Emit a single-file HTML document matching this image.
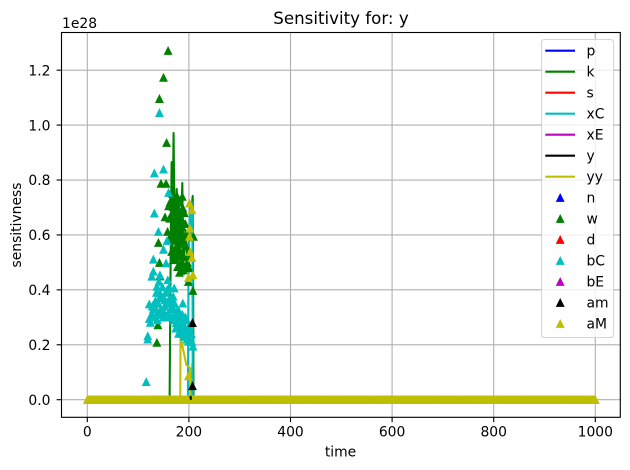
<!DOCTYPE html>
<html>
<head>
<meta charset="utf-8">
<title>Sensitivity for: y</title>
<style>
html,body{margin:0;padding:0;background:#fff;}
svg{display:block;}
text{font-family:"DejaVu Sans","Liberation Sans",sans-serif;fill:#000;}
</style>
</head>
<body>
<svg id="chart" xmlns="http://www.w3.org/2000/svg" width="630" height="470" viewBox="0 0 630 470"></svg>
<script>
const xTickLabels = [0, 200, 400, 600, 800, 1000];
const yTickLabels = [0.0, 0.2, 0.4, 0.6, 0.8, 1.0, 1.2];

const kTimes = [0,162,163.7,166,167.6,169.8,172,176,179,180.5,183,187,189,193,197,200.5,207.5,208.5,209,1000];
const kValues = [0,0,0.436,0.865,0.509,0.971,0.60,0.767,0.50,0.709,0.509,0.789,0.49,0.618,0.49,0.60,0.742,0.363,0,0];
const sTimes = [0,206.5,207,207.5,1000];
const sValues = [0,0,0.13,0,0];
const xCTimes = [0,198,199,201,203,204.5,205.5,207,207.5,1000];
const xCValues = [0,0,0.417,0.62,0.72,0.58,0.72,0.66,0,0];
const yyTimes = [0,183,183.5,189,195,202.5,203.5,1000];
const yyValues = [0,0,0.228,0.18,0.126,0.115,0,0];
const yTimes = [203,203.5,204];
const yValues = [0.014,0.008,0];

const wTimes = [159,150,142,156,145,155,160,169,188,153,166,176,158,140,142,143,166,169,186,181.5,189,175,183,186,177.5,189,181.5,199,208,209,139,137,
162,170,178,172,180,185,176,190,173,184,165,195,168,
163,167,171,174,177,179,182,185,187,191,193,196,164,168,172,175,178,181,184,187,190,194,197,170,174,179,183,186,192,200,203];
const wValues = [1.271,1.173,1.096,0.936,0.787,0.787,0.705,0.702,0.698,0.665,0.673,0.680,0.612,0.572,0.499,0.450,0.539,0.509,0.630,0.594,0.570,0.557,0.534,0.503,0.484,0.472,0.463,0.430,0.397,0.594,0.272,0.208,
0.66,0.64,0.62,0.58,0.65,0.57,0.61,0.52,0.55,0.47,0.60,0.48,0.75,
0.72,0.68,0.73,0.70,0.74,0.69,0.72,0.66,0.74,0.68,0.64,0.60,0.58,0.61,0.63,0.60,0.66,0.62,0.68,0.60,0.57,0.56,0.50,0.53,0.51,0.54,0.49,0.53,0.48,0.48,0.52];

const bCTimes = [142,150,132,160,132,140,157,150,130,155,130,127,143,158.5,137,171,143,157,169,142,122,133.5,153,188,166,127,122,143,124,160,179.5,173,183,193,176,189,179.5,196,119,119,199,208,116,135,150,165,175,185,190,180,170,148,160,138,200,
128,131,134,137,140,145,148,152,155,158,162,164,168,172,174,178,181,185,187,191,194,198,202,205,126,130,136,141,146,151,156,161,166,170,176,182,186,192,196,203,206];
const bCValues = [1.045,0.839,0.825,0.754,0.679,0.612,0.579,0.547,0.511,0.497,0.467,0.449,0.454,0.436,0.412,0.406,0.388,0.400,0.376,0.370,0.348,0.351,0.363,0.351,0.339,0.313,0.295,0.310,0.281,0.315,0.325,0.301,0.284,0.301,0.266,0.266,0.241,0.241,0.232,0.220,0.212,0.194,0.065,0.33,0.30,0.30,0.28,0.25,0.23,0.26,0.33,0.37,0.35,0.29,0.25,
0.34,0.30,0.36,0.31,0.35,0.33,0.41,0.34,0.39,0.31,0.37,0.33,0.30,0.35,0.26,0.29,0.31,0.29,0.31,0.27,0.29,0.26,0.27,0.24,0.30,0.33,0.39,0.43,0.37,0.32,0.30,0.41,0.36,0.29,0.32,0.27,0.24,0.25,0.22,0.23,0.21];

const amTimes = [207,207];
const amValues = [0.28,0.05];
const aMPeakTimes = [201,206,202,201,202.5,206,208,199,199];
const aMPeakValues = [0.715,0.691,0.624,0.594,0.539,0.517,0.454,0.444,0.086];

const timeEnd = 1000;
const baselineValues = [
0,0,0,0,0,0,0,0,0,0,0,0,0,0,0,0,0,0,0,0,0,0,0,0,0,0,0,0,0,0,0,0,0,0,0,0,0,0,0,0,0,0,0,0,0,0,0,0,0,0,
0,0,0,0,0,0,0,0,0,0,0,0,0,0,0,0,0,0,0,0,0,0,0,0,0,0,0,0,0,0,0,0,0,0,0,0,0,0,0,0,0,0,0,0,0,0,0,0,0,0,
0,0,0,0,0,0,0,0,0,0,0,0,0,0,0,0,0,0,0,0,0,0,0,0,0,0,0,0,0,0,0,0,0,0,0,0,0,0,0,0,0,0,0,0,0,0,0,0,0,0,
0,0,0,0,0,0,0,0,0,0,0,0,0,0,0,0,0,0,0,0,0,0,0,0,0,0,0,0,0,0,0,0,0,0,0,0,0,0,0,0,0,0,0,0,0,0,0,0,0,0,
0,0,0,0,0,0,0,0,0,0,0,0,0,0,0,0,0,0,0,0,0,0,0,0,0,0,0,0,0,0,0,0,0,0,0,0,0,0,0,0,0,0,0,0,0,0,0,0,0,0,
0,0,0,0,0,0,0,0,0,0,0,0,0,0,0,0,0,0,0,0,0,0,0,0,0,0,0,0,0,0,0,0,0,0,0,0,0,0,0,0,0,0,0,0,0,0,0,0,0,0,
0,0,0,0,0,0,0,0,0,0,0,0,0,0,0,0,0,0,0,0,0,0,0,0,0,0,0,0,0,0,0,0,0,0,0,0,0,0,0,0,0,0,0,0,0,0,0,0,0,0,
0,0,0,0,0,0,0,0,0,0,0,0,0,0,0,0,0,0,0,0,0,0,0,0,0,0,0,0,0,0,0,0,0,0,0,0,0,0,0,0,0,0,0,0,0,0,0,0,0,0,
0,0,0,0,0,0,0,0,0,0,0,0,0,0,0,0,0,0,0,0,0,0,0,0,0,0,0,0,0,0,0,0,0,0,0,0,0,0,0,0,0,0,0,0,0,0,0,0,0,0,
0,0,0,0,0,0,0,0,0,0,0,0,0,0,0,0,0,0,0,0,0,0,0,0,0,0,0,0,0,0,0,0,0,0,0,0,0,0,0,0,0,0,0,0,0,0,0,0,0,0,
0];

const lineLegendLabels = ['p','k','s','xC','xE','y','yy'];
const lineLegendColors = ['#0000ff','#008000','#ff0000','#00bfbf','#bf00bf','#000000','#bfbf00'];
const markerLegendLabels = ['n','w','d','bC','bE','am','aM'];
const markerLegendColors = ['#0000ff','#008000','#ff0000','#00bfbf','#bf00bf','#000000','#bfbf00'];

const svg = document.getElementById('chart');
const NS = 'http://www.w3.org/2000/svg';
const box = {left: 61.5, right: 620.3, top: 32.5, bottom: 417.3};

function xScale(t) { return 87.3 + t * 0.508; }
function yScale(v) { return 399.7 - v * 274.6; }

function make(tag, parent) {
  const el = document.createElementNS(NS, tag);
  parent.appendChild(el);
  return el;
}
function triangle(parent, cx, cy, color) {
  const r = 3.8;
  const p = make('polygon', parent);
  p.setAttribute('points', (cx) + ',' + (cy - r) + ' ' + (cx - r) + ',' + (cy + r) + ' ' + (cx + r) + ',' + (cy + r));
  p.setAttribute('fill', color);
  p.setAttribute('stroke', color);
  p.setAttribute('stroke-width', '0.8');
  return p;
}
function seriesLine(parent, times, values, color) {
  const l = make('polyline', parent);
  l.setAttribute('points', times.map(function (t, i) { return xScale(t).toFixed(2) + ',' + yScale(values[i]).toFixed(2); }).join(' '));
  l.setAttribute('fill', 'none');
  l.setAttribute('stroke', color);
  l.setAttribute('stroke-width', '2.08');
  l.setAttribute('stroke-linejoin', 'round');
  return l;
}
function label(parent, x, y, str, size, anchor) {
  const t = make('text', parent);
  t.setAttribute('x', x);
  t.setAttribute('y', y);
  t.setAttribute('font-size', size);
  t.setAttribute('text-anchor', anchor);
  t.textContent = str;
  return t;
}

const bg = make('rect', svg);


bg.setAttribute('x', box.left);
bg.setAttribute('y', box.top);
bg.setAttribute('width', box.right - box.left);
bg.setAttribute('height', box.bottom - box.top);
bg.setAttribute('fill', '#ffffff');

const grid = make('g', svg);


grid.setAttribute('stroke', '#b0b0b0');
grid.setAttribute('stroke-width', '1.11');
xTickLabels.forEach(function (t) {
  const g = make('line', grid);
  
  
  g.setAttribute('x1', xScale(t));
  g.setAttribute('x2', xScale(t));
  g.setAttribute('y1', box.top);
  g.setAttribute('y2', box.bottom);
});
yTickLabels.forEach(function (v) {
  const g = make('line', grid);
  
  
  g.setAttribute('x1', box.left);
  g.setAttribute('x2', box.right);
  g.setAttribute('y1', yScale(v));
  g.setAttribute('y2', yScale(v));
});

const lines = make('g', svg);


const kLine = seriesLine(lines, kTimes, kValues, '#008000');


const sLine = seriesLine(lines, sTimes, sValues, '#ff0000');


const xCLine = seriesLine(lines, xCTimes, xCValues, '#00bfbf');


const yyLine = seriesLine(lines, yyTimes, yyValues, '#bfbf00');



const wGroup = make('g', svg);


wTimes.forEach(function (t, i) {
  const m = triangle(wGroup, xScale(t), yScale(wValues[i]), '#008000');
  
  
});
const bCGroup = make('g', svg);


bCTimes.forEach(function (t, i) {
  const m = triangle(bCGroup, xScale(t), yScale(bCValues[i]), '#00bfbf');
  
  
});
const aMGroup = make('g', svg);


baselineValues.forEach(function (v, i) {
  const t = i * timeEnd / (baselineValues.length - 1);
  const m = triangle(aMGroup, xScale(t), yScale(v), '#bfbf00');
  
  
});
aMPeakTimes.forEach(function (t, i) {
  const m = triangle(aMGroup, xScale(t), yScale(aMPeakValues[i]), '#bfbf00');
  
  
});
const amGroup = make('g', svg);


amTimes.forEach(function (t, i) {
  const m = triangle(amGroup, xScale(t), yScale(amValues[i]), '#000000');
  
  
});
const yLine = seriesLine(svg, yTimes, yValues, '#000000');



const spines = make('rect', svg);


spines.setAttribute('x', box.left);
spines.setAttribute('y', box.top);
spines.setAttribute('width', box.right - box.left);
spines.setAttribute('height', box.bottom - box.top);
spines.setAttribute('fill', 'none');
spines.setAttribute('stroke', '#000');
spines.setAttribute('stroke-width', '1.11');

const xAxis = make('g', svg);


xTickLabels.forEach(function (t) {
  const tick = make('line', xAxis);
  
  
  tick.setAttribute('x1', xScale(t));
  tick.setAttribute('x2', xScale(t));
  tick.setAttribute('y1', box.bottom);
  tick.setAttribute('y2', box.bottom + 4.86);
  tick.setAttribute('stroke', '#000');
  tick.setAttribute('stroke-width', '1.11');
  const txt = label(xAxis, xScale(t), 436.5, String(t), '13.89px', 'middle');
  
  
});
const yAxis = make('g', svg);


yTickLabels.forEach(function (v) {
  const tick = make('line', yAxis);
  
  
  tick.setAttribute('x1', box.left - 4.86);
  tick.setAttribute('x2', box.left);
  tick.setAttribute('y1', yScale(v));
  tick.setAttribute('y2', yScale(v));
  tick.setAttribute('stroke', '#000');
  tick.setAttribute('stroke-width', '1.11');
  const txt = label(yAxis, 50.5, yScale(v) + 5.2, v.toFixed(1), '13.89px', 'end');
  
  
});

const titleText = label(svg, 341, 24, 'Sensitivity for: y', '16.67px', 'middle');


const offsetText = label(svg, 62, 28, '1e28', '13.89px', 'start');


const xTitle = label(svg, 340.5, 456.5, 'time', '13.89px', 'middle');


const yTitle = label(svg, 0, 0, 'sensitivness', '13.89px', 'middle');


yTitle.setAttribute('transform', 'translate(21,225) rotate(-90)');

const legend = make('g', svg);


const legendBox = make('rect', legend);


legendBox.setAttribute('x', 541.5);
legendBox.setAttribute('y', 39.5);
legendBox.setAttribute('width', 72);
legendBox.setAttribute('height', 298);
legendBox.setAttribute('rx', 2.8);
legendBox.setAttribute('fill', '#ffffff');
legendBox.setAttribute('fill-opacity', '0.8');
legendBox.setAttribute('stroke', '#cccccc');
legendBox.setAttribute('stroke-opacity', '0.8');
legendBox.setAttribute('stroke-width', '1.11');

lineLegendLabels.forEach(function (name, i) {
  const rowY = 50.7 + 21 * i;
  const h = make('line', legend);
  
  
  h.setAttribute('x1', 545.3);
  h.setAttribute('x2', 575);
  h.setAttribute('y1', rowY);
  h.setAttribute('y2', rowY);
  h.setAttribute('stroke', lineLegendColors[i]);
  h.setAttribute('stroke-width', '2.08');
  const txt = label(legend, 586.5, rowY + 5, name, '13.89px', 'start');
  
  
});
markerLegendLabels.forEach(function (name, i) {
  const rowY = 197.7 + 21 * i;
  const m = triangle(legend, 560.2, rowY, markerLegendColors[i]);
  
  
  const txt = label(legend, 586.5, rowY + 5, name, '13.89px', 'start');
  
  
});
</script>
</body>
</html>
